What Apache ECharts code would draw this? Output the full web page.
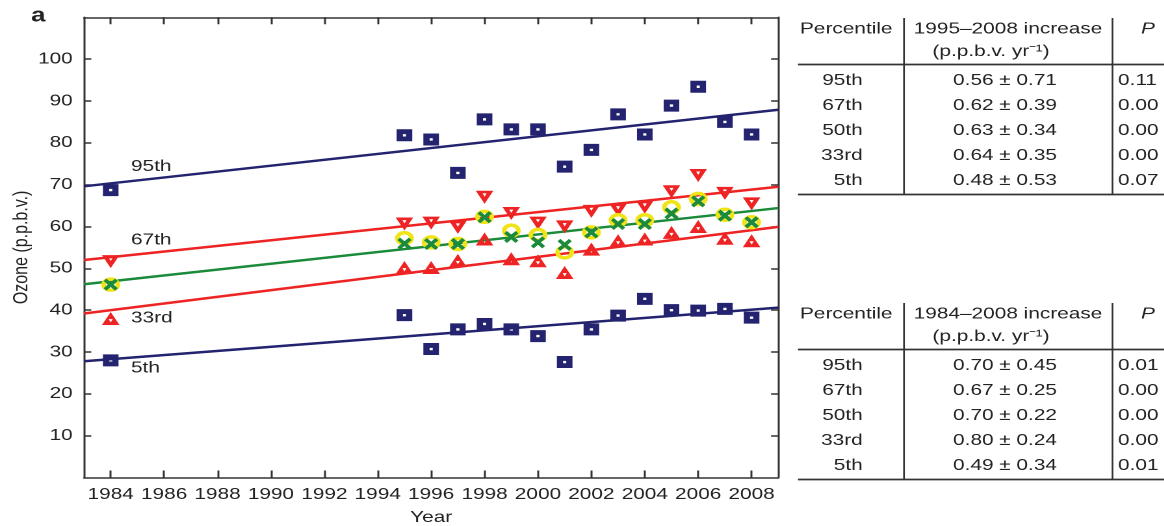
<!DOCTYPE html>
<html>
<head>
<meta charset="utf-8">
<script src="https://cdn.jsdelivr.net/npm/echarts@6/dist/echarts.min.js"></script>
<style>
  html, body { margin: 0; padding: 0; background: #fff; overflow: hidden; }
  /* the source figure is stretched horizontally, so is the chart */
  #main { width: 895.4px; height: 526px; transform: scaleX(1.3); transform-origin: 0 0; }
</style>
</head>
<body>
<div id="main"></div>
<script>
// data
const years = [1984, 1995, 1996, 1997, 1998, 1999, 2000, 2001, 2002, 2003, 2004, 2005, 2006, 2007, 2008];
const p95 = [68.7, 81.8, 80.8, 72.8, 85.6, 83.2, 83.2, 74.3, 78.3, 86.8, 82.0, 88.9, 93.4, 85.0, 82.0];
const p67 = [51.6, 60.6, 60.8, 59.8, 67.0, 63.1, 60.8, 59.9, 63.6, 63.9, 64.6, 68.3, 72.2, 67.9, 65.4];
const p50 = [46.1, 55.9, 55.8, 55.8, 62.2, 57.5, 56.2, 55.6, 58.6, 60.6, 60.6, 63.1, 66.0, 62.6, 61.0];
const mean50 = [46.1, 57.2, 56.2, 55.8, 62.3, 59.0, 58.0, 53.8, 58.6, 61.5, 61.5, 64.6, 66.6, 62.8, 61.0];
const p33 = [38.0, 50.2, 50.2, 51.9, 57.0, 52.3, 51.8, 49.0, 54.6, 56.6, 57.0, 58.6, 60.0, 57.2, 56.6];
const p5 = [28.0, 38.8, 30.7, 35.4, 36.7, 35.4, 33.8, 27.6, 35.4, 38.7, 42.7, 40.0, 39.9, 40.3, 38.2];

// fitted trend lines, ends at the plot edges
const trendYears = [1983, 2009];
const trend95 = [69.6, 87.9];
const trend67 = [52.0, 69.5];
const trend50 = [46.2, 64.4];
const trend33 = [39.2, 59.9];
const trend5 = [27.8, 40.6];

const tickYears = [1984, 1986, 1988, 1990, 1992, 1994, 1996, 1998, 2000, 2002, 2004, 2006, 2008];
const tickOzone = [10, 20, 30, 40, 50, 60, 70, 80, 90, 100];

// tables
const pctNames = ['95th', '67th', '50th', '33rd', '5th'];
const rate1995 = ['0.56 ± 0.71', '0.62 ± 0.39', '0.63 ± 0.34', '0.64 ± 0.35', '0.48 ± 0.53'];
const pval1995 = ['0.11', '0.00', '0.00', '0.00', '0.07'];
const rate1984 = ['0.70 ± 0.45', '0.67 ± 0.25', '0.70 ± 0.22', '0.80 ± 0.24', '0.49 ± 0.34'];
const pval1984 = ['0.01', '0.00', '0.00', '0.00', '0.01'];

const S = 1.3;               // horizontal stretch
const X = px => px / S;      // picture x -> chart x
const FONT = '"Liberation Sans", Arial, Helvetica, sans-serif';
const INK = '#222';
const NAVY = '#23236f', RED = '#ee2424', GREEN = '#1b8a3b', YELLOW = '#f0e318';

const pairs = (xs, ys) => xs.map((x, i) => [x, ys[i]]);

function txt(x, y, s, align, extra) {
    return {
        type: 'text', x: x, y: y, silent: true,
        style: Object.assign({
            text: s, font: '16px ' + FONT, fill: INK,
            align: align, verticalAlign: 'middle',
            textAlign: align, textVerticalAlign: 'middle'
        }, extra || {})
    };
}
function hline(x1, x2, y, w) {
    return { type: 'line', silent: true, shape: { x1: x1, y1: y, x2: x2, y2: y }, style: { stroke: '#333', lineWidth: w || 1.5 } };
}
function vline(x, y1, y2) {
    return { type: 'line', silent: true, shape: { x1: x, y1: y1, x2: x, y2: y2 }, style: { stroke: '#333', lineWidth: 1.3 } };
}

function table(top, title, rates, pvals) {
    let els = [];
    els.push(txt(X(800), top + 11, 'Percentile', 'left'));
    els.push(txt(X(1008), top + 11, title, 'center'));
    els.push(txt(X(991), top + 33.5, '(p.p.b.v. yr⁻¹)', 'center'));
    els.push(txt(X(1141), top + 11, 'P', 'left', { font: 'italic 16px ' + FONT }));
    els.push(hline(X(798), 900, top + 46.5, 1.8));
    for (let i = 0; i < pctNames.length; i++) {
        let y = top + 62.5 + 25 * i;
        els.push(txt(X(862.7), y, pctNames[i], 'right'));
        els.push(txt(X(1005), y, rates[i], 'center'));
        els.push(txt(X(1118), y, pvals[i], 'left'));
    }
    els.push(hline(X(798), 900, top + 176.5, 1.8));
    els.push(vline(X(904), top, top + 176.5));
    els.push(vline(X(1112.5), top, top + 176.5));
    return els;
}

let graphics = [
    txt(X(31), 16, 'a', 'left', { font: 'bold 20px ' + FONT }),
    txt(X(131), 166.5, '95th', 'left'),
    txt(X(131), 240, '67th', 'left'),
    txt(X(131), 318, '33rd', 'left'),
    txt(X(131), 368, '5th', 'left')
].concat(table(18, '1995–2008 increase', rate1995, pval1995))
 .concat(table(303, '1984–2008 increase', rate1984, pval1984));

const axisLineStyle = { color: '#333', width: 1.5 };
const labelStyle = { fontSize: 16, fontFamily: FONT, color: INK };

function trend(data, color) {
    return {
        type: 'line', data: pairs(trendYears, data), symbol: 'none', silent: true,
        lineStyle: { color: color, width: 2.5 }, z: 1
    };
}
function marks(data, symbol, size, style, z) {
    return {
        type: 'scatter', data: pairs(years, data), symbol: symbol, symbolSize: size,
        itemStyle: Object.assign({ opacity: 1 }, style), z: z, silent: true
    };
}

const squareDot = 'path://M0,0H12V12H0Z M4.8,4.8V7.2H7.2V4.8Z';
const triDown = 'path://M0,0L12,0L6,11Z M4.6,2.2L6,5L7.4,2.2Z';
const triUp = 'path://M6,0L12,11L0,11Z M6,8.8L7.4,6L4.6,6Z';
const cross = 'path://M0,2L2,0L5,3L8,0L10,2L7,5L10,8L8,10L5,7L2,10L0,8L3,5Z';

var myChart = echarts.init(document.getElementById('main'), null, { devicePixelRatio: 2 });

var option = {
    animation: false,
    grid: { left: X(84), top: 17.3, width: X(778.3 - 84), height: 460.2, containLabel: false, outerBoundsMode: 'none' },
    xAxis: [{
        type: 'value', min: 1983, max: 2009, position: 'bottom',
        axisLine: { show: true, onZero: false, lineStyle: axisLineStyle },
        axisTick: { show: true, inside: true, length: 7, customValues: tickYears, lineStyle: axisLineStyle },
        axisLabel: Object.assign({ customValues: tickYears, margin: 9, formatter: v => String(v) }, labelStyle),
        splitLine: { show: false },
        name: 'Year', nameLocation: 'middle', nameGap: 32, nameMoveOverlap: false, nameTextStyle: labelStyle
    }, {
        type: 'value', min: 1983, max: 2009, position: 'top',
        axisLine: { show: true, onZero: false, lineStyle: axisLineStyle },
        axisTick: { show: true, inside: true, length: 7, customValues: tickYears, lineStyle: axisLineStyle },
        axisLabel: { show: false },
        splitLine: { show: false }
    }],
    yAxis: [{
        type: 'value', min: 0, max: 110, interval: 10, position: 'left',
        axisLine: { show: true, onZero: false, lineStyle: axisLineStyle },
        axisTick: { show: true, inside: true, length: 5.6, customValues: tickOzone, lineStyle: axisLineStyle },
        axisLabel: Object.assign({ customValues: tickOzone, margin: 8.7 }, labelStyle),
        splitLine: { show: false },
        name: 'Ozone (p.p.b.v.)', nameLocation: 'middle', nameGap: 40, nameMoveOverlap: false, nameTextStyle: labelStyle
    }, {
        type: 'value', min: 0, max: 110, interval: 10, position: 'right',
        axisLine: { show: true, onZero: false, lineStyle: axisLineStyle },
        axisTick: { show: true, inside: true, length: 5.6, customValues: tickOzone, lineStyle: axisLineStyle },
        axisLabel: { show: false },
        splitLine: { show: false }
    }],
    series: [
        trend(trend95, NAVY),
        trend(trend67, RED),
        trend(trend50, GREEN),
        trend(trend33, RED),
        trend(trend5, NAVY),
        marks(p95, squareDot, [12, 12], { color: NAVY }, 3),
        marks(p5, squareDot, [12, 12], { color: NAVY }, 3),
        marks(p67, triDown, [13.5, 13], { color: RED }, 3),
        marks(p33, triUp, [13.5, 13], { color: RED }, 3),
        marks(mean50, 'circle', 11, { color: 'rgba(0,0,0,0)', borderColor: YELLOW, borderWidth: 3.5 }, 4),
        marks(p50, cross, [11, 12], { color: GREEN }, 5)
    ],
    graphic: { elements: graphics }
};

myChart.setOption(option);
</script>
</body>
</html>
